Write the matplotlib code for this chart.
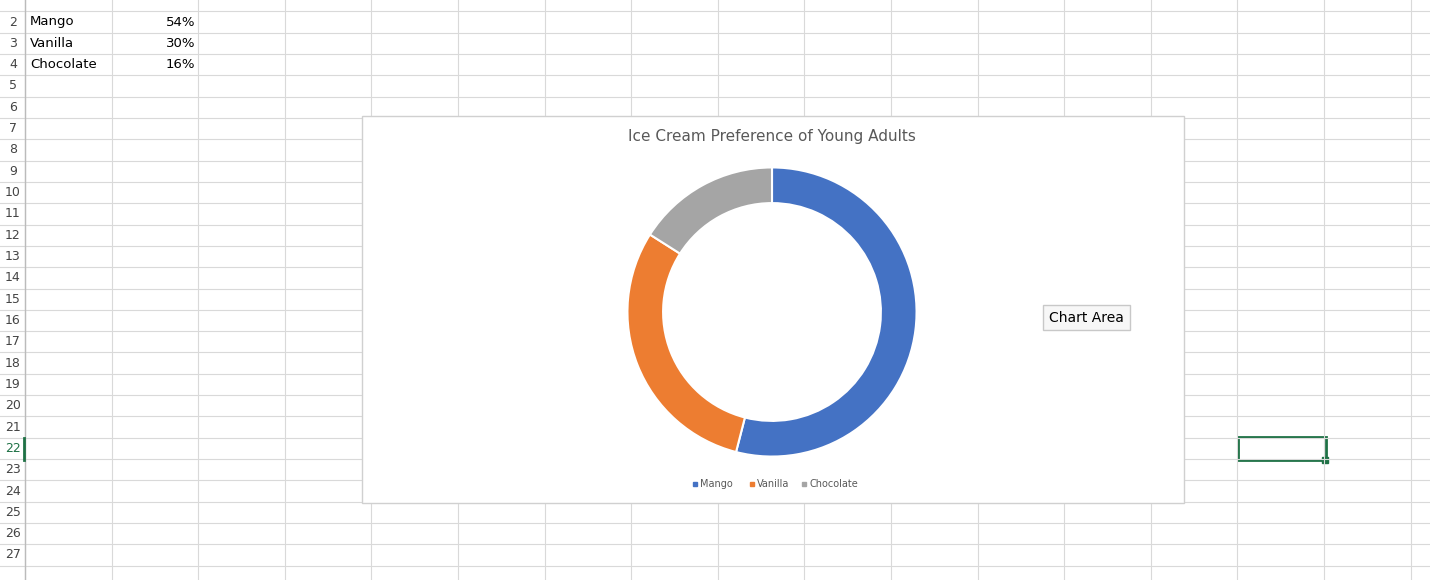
import matplotlib.pyplot as plt
from matplotlib.patches import Rectangle

flavours = ["Mango", "Vanilla", "Chocolate"]
shares = [54, 30, 16]
share_labels = ["54%", "30%", "16%"]
colors = ["#4472C4", "#ED7D31", "#A5A5A5"]
title = "Ice Cream Preference of Young Adults"

W, H = 1430, 580
fig = plt.figure(figsize=(W / 100, H / 100), dpi=100)
ax = fig.add_axes([0, 0, 1, 1])
ax.set_xlim(0, W)
ax.set_ylim(H, 0)
ax.axis("off")

# spreadsheet grid
row_h = 21.32
col_x = [25 + i * 86.6 for i in range(17)]
for r in range(0, 29):
    y = 22 - row_h / 2 + (r - 1) * row_h
    ax.plot([0, W], [y, y], color="#D9D9D9", lw=0.8)
    n = r + 1
    ty = 22 + (n - 2) * row_h
    if 4 < ty < H - 8:
        ax.text(13, ty, str(n), ha="center", va="center", fontsize=9,
                color="#1E7145" if n == 22 else "#444444")
for x in col_x:
    ax.plot([x, x], [0, H], color="#D9D9D9", lw=0.8)
ax.plot([25, 25], [0, H], color="#BBBBBB", lw=1)
ax.plot([24, 24], [438, 460], color="#1E7145", lw=2)

for i, (f, s) in enumerate(zip(flavours, share_labels)):
    y = 22 + i * row_h
    ax.text(30, y, f, ha="left", va="center", fontsize=9.5, color="black")
    ax.text(195, y, s, ha="right", va="center", fontsize=9.5, color="black")

# selected cell
ax.add_patch(Rectangle((1238, 437), 88, 23, fill=False, ec="#1E7145", lw=2))
ax.add_patch(Rectangle((1322, 457), 6, 6, color="#1E7145"))

# chart area
ax.add_patch(Rectangle((362, 116), 822, 387, fc="white", ec="#D0D0D0", lw=1, zorder=3))
ax.text(772, 137, title, ha="center", va="center", fontsize=11, color="#595959", zorder=4)

# legend
lx = [695, 752, 804]
for f, c, x in zip(flavours, colors, lx):
    ax.plot(x, 484, "s", ms=3.5, color=c, zorder=4)
    ax.text(x + 5, 484, f, ha="left", va="center", fontsize=7, color="#595959", zorder=4)

# tooltip
ax.add_patch(Rectangle((1043, 305), 87, 25, fc="#F7F7F7", ec="#C8C8C8", lw=1, zorder=4))
ax.text(1086, 318, "Chart Area", ha="center", va="center", fontsize=10, color="black", zorder=5)

# donut
cx, cy, R = 772, 312, 146
pax = fig.add_axes([(cx - R) / W, (H - cy - R) / H, 2 * R / W, 2 * R / H])
pax.pie(shares, colors=colors, startangle=90, counterclock=False,
        wedgeprops=dict(width=36 / R, edgecolor="white", linewidth=1.5))
pax.set_xlim(-1.01, 1.01)
pax.set_ylim(-1.01, 1.01)
pax.set_aspect("equal")

fig.savefig("out.png", dpi=100)
